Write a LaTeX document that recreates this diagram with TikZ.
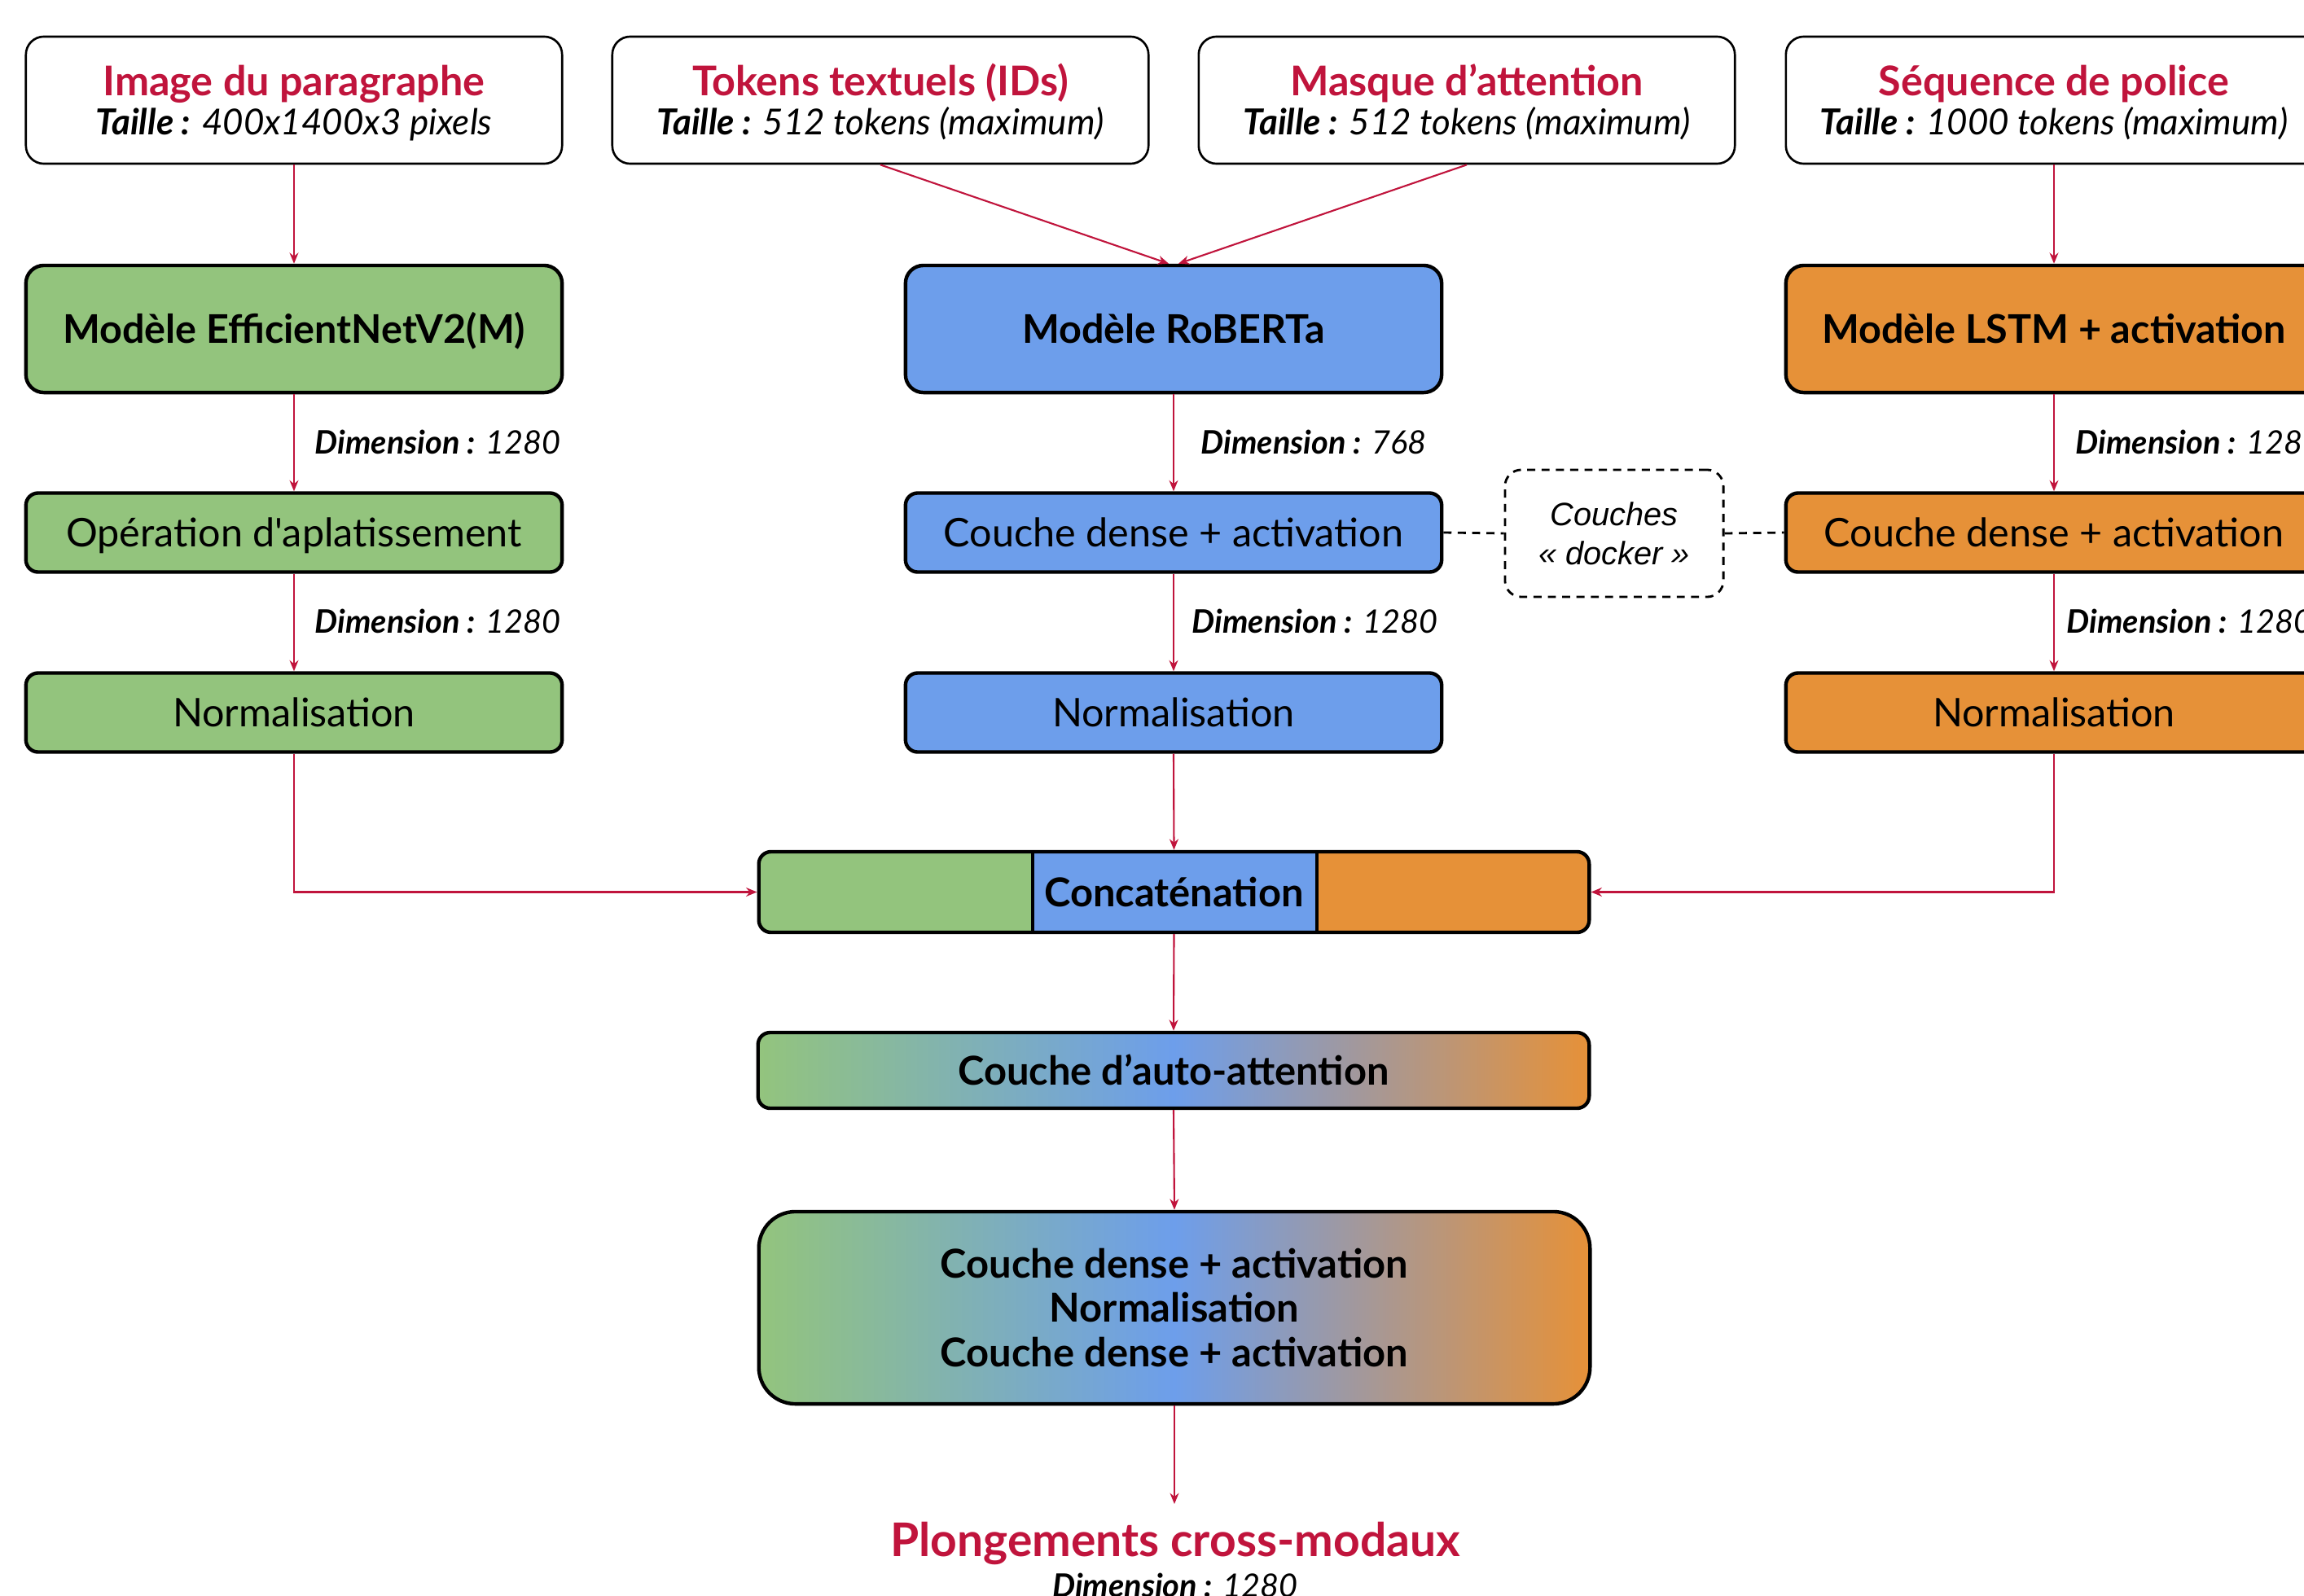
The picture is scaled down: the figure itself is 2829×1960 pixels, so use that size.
\documentclass[tikz,border=0pt]{standalone}
\usepackage{fontspec}
\setmainfont{Lato}[Ligatures=TeXOff]
\newfontfamily\arialfont{Liberation Sans}
\usetikzlibrary{arrows.meta}
\definecolor{cgreen}{HTML}{93C47D}
\definecolor{cblue}{HTML}{6D9EEB}
\definecolor{corange}{HTML}{E69138}
\definecolor{cred}{HTML}{C0143C}
\begin{document}
\begin{tikzpicture}[x=0.01cm,y=-0.01cm,
  inbox/.style={draw=black, line width=0.75pt, rounded corners=0.22cm, minimum width=6.58cm, minimum height=1.56cm, inner sep=0pt},
  titletxt/.style={anchor=base, inner sep=0pt, text=cred, font=\fontsize{14.3pt}{16pt}\selectfont\bfseries},
  subtxt/.style={anchor=base, inner sep=0pt, font=\fontsize{12.5pt}{14pt}\selectfont\itshape},
  modelbox/.style={draw=black, line width=1.25pt, rounded corners=0.22cm, minimum width=6.58cm, minimum height=1.56cm, inner sep=0pt, text height=0.35cm, text depth=0cm, font=\fontsize{13.8pt}{16pt}\selectfont\bfseries},
  layerbox/.style={draw=black, line width=1.25pt, rounded corners=0.15cm, minimum width=6.58cm, minimum height=0.97cm, inner sep=0pt, text height=0.35cm, text depth=0cm, font=\fontsize{13.8pt}{16pt}\selectfont},
  arr/.style={draw=cred, line width=0.6pt, -{Stealth[length=3.8pt,width=3.1pt]}},
  dimlab/.style={anchor=west, inner sep=0pt, text height=0.285cm, text depth=0cm, font=\fontsize{11.3pt}{13pt}\selectfont\itshape},
  grad/.style={left color=cgreen, right color=corange, middle color=cblue},
  dashln/.style={line width=0.8pt, dash pattern=on 2.8pt off 2.2pt},
]
\useasboundingbox (0,0) rectangle (2829,1960);

% input boxes
\node[inbox] (in1) at (361,123) {};
\node[inbox] (in2) at (1081,123) {};
\node[inbox] (in3) at (1801,123) {};
\node[inbox] (in4) at (2522,123) {};
\node[titletxt] (in1t) at (361,117) {Image du paragraphe};
\node[subtxt] (in1s) at (361,165) {\textbf{Taille :} 400x1400x3 pixels};
\node[titletxt] (in2t) at (1081,117) {Tokens textuels (IDs)};
\node[subtxt] (in2s) at (1081,165) {\textbf{Taille :} 512 tokens (maximum)};
\node[titletxt] (in3t) at (1801,117) {Masque d’attention};
\node[subtxt] (in3s) at (1801,165) {\textbf{Taille :} 512 tokens (maximum)};
\node[titletxt] (in4t) at (2522,117) {Séquence de police};
\node[subtxt] (in4s) at (2522,165) {\textbf{Taille :} 1000 tokens (maximum)};

% model boxes
\node[modelbox, fill=cgreen] (m1) at (361,404) {Modèle EfficientNetV2(M)};
\node[modelbox, fill=cblue] (m2) at (1441,404) {Modèle RoBERTa};
\node[modelbox, fill=corange] (m3) at (2522,404) {Modèle LSTM + activation};

% second layer
\node[layerbox, fill=cgreen] (d1) at (361,654) {Opération d'aplatissement};
\node[layerbox, fill=cblue] (d2) at (1441,654) {Couche dense + activation};
\node[layerbox, fill=corange] (d3) at (2522,654) {Couche dense + activation};

% normalisation
\node[layerbox, fill=cgreen] (n1) at (361,875) {Normalisation};
\node[layerbox, fill=cblue] (n2) at (1441,875) {Normalisation};
\node[layerbox, fill=corange] (n3) at (2522,875) {Normalisation};

% docker box
\node[draw=black, dashln, rounded corners=0.2cm, minimum width=2.68cm, minimum height=1.56cm, align=center, inner sep=0pt, font=\arialfont\fontsize{11.3pt}{13.6pt}\selectfont\itshape] (dock) at (1982,655) {Couches\\« docker »};

% concatenation (three coloured parts)
\begin{scope}
  \clip[rounded corners=0.15cm] (932,1046) rectangle (1951,1145);
  \fill[cgreen] (920,1030) rectangle (1268,1160);
  \fill[cblue] (1268,1030) rectangle (1617,1160);
  \fill[corange] (1617,1030) rectangle (1965,1160);
\end{scope}
\draw[line width=1.25pt] (1268,1046) -- (1268,1145);
\draw[line width=1.25pt] (1617,1046) -- (1617,1145);
\node[draw=black, line width=1.25pt, rounded corners=0.15cm, minimum width=10.19cm, minimum height=0.99cm, inner sep=0pt, text height=0.35cm, text depth=0cm, font=\fontsize{13.9pt}{16pt}\selectfont\bfseries] (concat) at (1441.5,1095.5) {Concaténation};

% self-attention
\node[draw=black, line width=1.25pt, rounded corners=0.15cm, minimum width=10.2cm, minimum height=0.93cm, inner sep=0pt, text height=0.35cm, text depth=0cm, grad, font=\fontsize{13.9pt}{16pt}\selectfont\bfseries] (att) at (1441,1314.5) {Couche d’auto-attention};

% big box
\node[draw=black, line width=1.25pt, rounded corners=0.45cm, minimum width=10.2cm, minimum height=2.36cm, inner sep=0pt, align=center, grad, font=\fontsize{13.9pt}{15.6pt}\selectfont\bfseries] (big) at (1442,1606) {Couche dense + activation\\Normalisation\\Couche dense + activation};

% output
\coordinate (outc) at (1442,1847);
\node[anchor=center, inner sep=0pt, text height=0.41cm, text depth=0cm, text=cred, font=\fontsize{16.2pt}{18pt}\selectfont\bfseries] (outt) at (1443,1891) {Plongements cross-modaux};
\node[anchor=base, inner sep=0pt, font=\fontsize{11.3pt}{13pt}\selectfont\itshape] (outd) at (1443,1961) {\textbf{Dimension :} 1280};

% arrows
\draw[arr] (in1.south) -- (m1.north);
\draw[arr] (in2.south) -- ([xshift=-0.06cm]m2.north);
\draw[arr] (in3.south) -- ([xshift=0.06cm]m2.north);
\draw[arr] (in4.south) -- (m3.north);
\draw[arr] (m1.south) -- (d1.north);
\draw[arr] (m2.south) -- (d2.north);
\draw[arr] (m3.south) -- (d3.north);
\draw[arr] (d1.south) -- (n1.north);
\draw[arr] (d2.south) -- (n2.north);
\draw[arr] (d3.south) -- (n3.north);
\draw[arr] (n1.south) |- (concat.west);
\draw[arr] (n3.south) |- (concat.east);
\draw[arr] (n2.south) -- (concat.north);
\draw[arr] (concat.south) -- (att.north);
\draw[arr] (att.south) -- (big.north);
\draw[arr] (big.south) -- (outc);

% dashed links
\draw[dashln] (d2.east) -- (dock.west);
\draw[dashln] (dock.east) -- (d3.west);

% dimension labels
\node[dimlab] (l1a) at (386,543) {\textbf{Dimension :} 1280};
\node[dimlab] (l1b) at (386,763) {\textbf{Dimension :} 1280};
\node[dimlab] (l2a) at (1474,543) {\textbf{Dimension :} 768};
\node[dimlab] (l2b) at (1463,763) {\textbf{Dimension :} 1280};
\node[dimlab] (l3a) at (2548,543) {\textbf{Dimension :} 1280};
\node[dimlab] (l3b) at (2537,763) {\textbf{Dimension :} 1280};
\end{tikzpicture}
\end{document}
